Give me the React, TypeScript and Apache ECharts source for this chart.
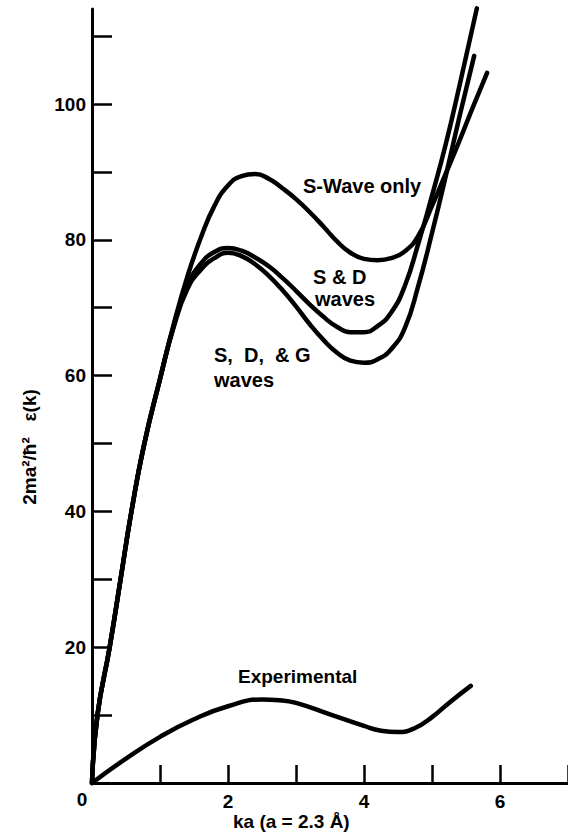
import React, { useEffect, useRef } from "react";
import * as echarts from "echarts";

const sWaveOnly: [number, number][] = [
  [0, 0], [0.08, 10], [0.26, 20], [0.42, 30], [0.58, 40], [0.77, 50], [1.0, 59.5],
  [1.2, 67.5], [1.4, 74.5], [1.6, 80.3], [1.8, 85], [2.0, 88], [2.2, 89.4], [2.4, 89.7],
  [2.6, 89], [2.8, 87.6], [3.0, 86], [3.2, 84.1], [3.4, 82], [3.6, 79.8], [3.8, 78.1],
  [4.0, 77.2], [4.2, 77], [4.4, 77.3], [4.6, 78.3], [4.8, 80.6], [5.0, 85], [5.2, 89.7],
  [5.4, 94.5], [5.6, 99.5], [5.81, 104.6],
];
const sAndD: [number, number][] = [
  [0, 0], [0.08, 10], [0.26, 20], [0.42, 30], [0.58, 40], [0.77, 50], [1.0, 59.5],
  [1.2, 67.3], [1.4, 73.2], [1.6, 76.5], [1.8, 78.2], [2.0, 78.8], [2.2, 78.4],
  [2.4, 77.4], [2.6, 76.1], [2.8, 74.4], [3.0, 72.5], [3.2, 70.5], [3.4, 68.7],
  [3.6, 67.2], [3.8, 66.4], [4.0, 66.4], [4.2, 67.3], [4.4, 69.3], [4.6, 73.2],
  [4.8, 79.5], [5.0, 86.5], [5.2, 94], [5.4, 102.5], [5.66, 114.1],
];
const sDAndG: [number, number][] = [
  [0, 0], [0.08, 10], [0.26, 20], [0.42, 30], [0.58, 40], [0.77, 50], [1.0, 59.5],
  [1.2, 67.1], [1.4, 72.7], [1.6, 75.6], [1.8, 77.3], [2.0, 78.1], [2.2, 77.6],
  [2.4, 76.4], [2.6, 74.7], [2.8, 72.6], [3.0, 70.2], [3.2, 67.6], [3.4, 65.3],
  [3.6, 63.4], [3.8, 62.2], [4.0, 61.9], [4.2, 62.4], [4.4, 63.9], [4.6, 67],
  [4.8, 73.3], [5.0, 81], [5.2, 89.3], [5.4, 98], [5.62, 107.1],
];
const experimental: [number, number][] = [
  [0, 0], [0.5, 3.6], [1.0, 6.8], [1.5, 9.4], [2.0, 11.3], [2.5, 12.3], [2.75, 12.2],
  [3.0, 11.8], [3.5, 10.1], [4.0, 8.4], [4.25, 7.7], [4.5, 7.5], [4.75, 8.1],
  [5.0, 9.7], [5.25, 11.8], [5.57, 14.3],
];

const xTickValues = [0, 1, 2, 3, 4, 5, 6, 7];
const xLabelValues = [2, 4, 6];
const yTickValues = [0, 10, 20, 30, 40, 50, 60, 70, 80, 90, 100, 110];
const yLabelValues = [20, 40, 60, 80, 100];

const FONT = "'Liberation Sans Narrow', 'Liberation Sans', sans-serif";

export default function App() {
  const ref = useRef<HTMLDivElement>(null);
  useEffect(() => {
    document.body.style.margin = "0";
    const chart = echarts.init(ref.current!, null, { renderer: "svg" });
    const lineSeries = (name: string, data: [number, number][]) => ({
      name,
      type: "line",
      data,
      showSymbol: false,
      smooth: 0.5,
      clip: false,
      lineStyle: { color: "#000", width: 4.5, cap: "round", join: "round" },
    });
    const txt = (text: string, x: number, y: number, size = 20, extra: any = {}) => ({
      type: "text",
      x,
      y,
      ...extra,
      style: {
        text,
        fill: "#000",
        font: `bold ${size}px ${FONT}`,
        verticalAlign: "middle",
        align: "left",
        ...(extra.style || {}),
      },
    });
    chart.setOption({
      animation: false,
      backgroundColor: "#fff",
      grid: { left: 92, right: 0, top: 9, bottom: 54 },
      xAxis: {
        type: "value",
        min: 0,
        max: 7,
        interval: 1,
        splitLine: { show: false },
        axisLine: { lineStyle: { color: "#000", width: 3 } },
        axisTick: {
          inside: true,
          length: 18,
          customValues: xTickValues,
          lineStyle: { color: "#000", width: 2.5 },
        },
        axisLabel: {
          customValues: xLabelValues,
          color: "#000",
          fontSize: 19,
          fontWeight: "bold",
          fontFamily: FONT,
          margin: 9,
        },
      },
      yAxis: {
        type: "value",
        min: 0,
        max: 114,
        interval: 10,
        splitLine: { show: false },
        axisLine: { lineStyle: { color: "#000", width: 3 } },
        axisTick: {
          inside: true,
          length: 20,
          customValues: yTickValues,
          lineStyle: { color: "#000", width: 2.5 },
        },
        axisLabel: {
          customValues: yLabelValues,
          color: "#000",
          fontSize: 19,
          fontWeight: "bold",
          fontFamily: FONT,
          margin: 6,
        },
      },
      series: [
        lineSeries("S-Wave only", sWaveOnly),
        lineSeries("S & D waves", sAndD),
        lineSeries("S, D, & G waves", sDAndG),
        lineSeries("Experimental", experimental),
      ],
      graphic: [
        txt("0", 82, 799, 19, { style: { align: "center" } }),
        txt("ka (a = 2.3 Å)", 233, 821, 19),
        txt("2ma²/ħ²   ε(k)", 29, 447, 19, {
          rotation: Math.PI / 2,
          style: { align: "center" },
        }),
        txt("S-Wave only", 303, 186, 20),
        txt("S & D", 313, 277, 20),
        txt("waves", 315, 299, 20),
        txt("S,  D,  & G", 214, 355, 20),
        txt("waves", 214, 380, 20),
        txt("Experimental", 238, 676, 19),
      ],
    });
    return () => chart.dispose();
  }, []);
  return (
    <div
      ref={ref}
      style={{ position: "absolute", left: 0, top: 0, width: 568, height: 837 }}
    />
  );
}
